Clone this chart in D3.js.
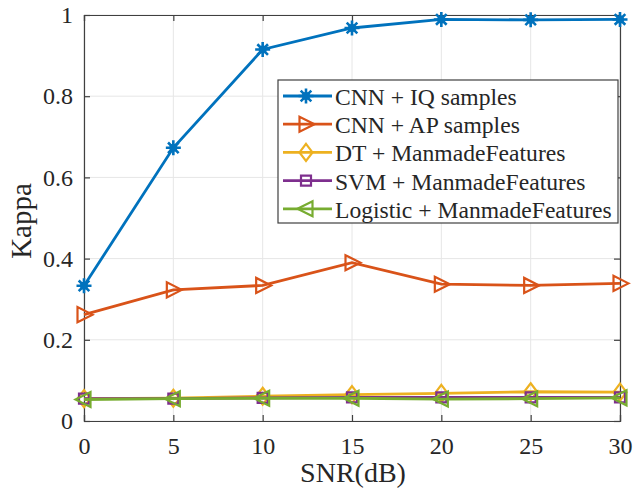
<!DOCTYPE html>
<html>
<head>
<meta charset="utf-8">
<script src="https://cdn.jsdelivr.net/npm/d3@7"></script>
<style>
  body { margin: 0; background: #fff; }
  text { font-family: "Liberation Serif", "Times New Roman", serif; fill: #262626; }
</style>
</head>
<body>
<svg id="chart" width="635" height="497"></svg>
<script>
// data
var snr = [0, 5, 10, 15, 20, 25, 30];
var cnnIQ = [0.333, 0.673, 0.915, 0.968, 0.989, 0.988, 0.989];
var cnnAP = [0.262, 0.323, 0.334, 0.390, 0.337, 0.334, 0.339];
var dtMF = [0.055, 0.056, 0.061, 0.065, 0.068, 0.072, 0.071];
var svmMF = [0.055, 0.055, 0.057, 0.058, 0.058, 0.058, 0.058];
var logMF = [0.053, 0.055, 0.056, 0.056, 0.054, 0.055, 0.057];
var yTicks = [0, 0.2, 0.4, 0.6, 0.8, 1];
var seriesNames = ['CNN + IQ samples', 'CNN + AP samples', 'DT + ManmadeFeatures',
                   'SVM + ManmadeFeatures', 'Logistic + ManmadeFeatures'];

var series = [
  {name: seriesNames[0], values: cnnIQ, color: '#0072BD', marker: 'star'},
  {name: seriesNames[1], values: cnnAP, color: '#D95319', marker: 'tright'},
  {name: seriesNames[2], values: dtMF, color: '#EDB120', marker: 'diamond'},
  {name: seriesNames[3], values: svmMF, color: '#7E2F8E', marker: 'square'},
  {name: seriesNames[4], values: logMF, color: '#77AC30', marker: 'tleft'}
];

var svg = d3.select('#chart');
var m = {left: 84, top: 15, right: 620, bottom: 421};

var x = d3.scaleLinear().domain([0, 30]).range([m.left, m.right]);
var y = d3.scaleLinear().domain([0, 1]).range([m.bottom, m.top]);

// grid
var grid = svg.append('g');
grid.selectAll('.gx').data(snr).enter().append('line')
  .attr('x1', function(d){ return x(d); }).attr('x2', function(d){ return x(d); })
  .attr('y1', m.top).attr('y2', m.bottom)
  .attr('stroke', '#e6e6e6').attr('stroke-width', 1);
grid.selectAll('.gy').data(yTicks).enter().append('line')
  .attr('y1', function(d){ return y(d); }).attr('y2', function(d){ return y(d); })
  .attr('x1', m.left).attr('x2', m.right)
  .attr('stroke', '#e6e6e6').attr('stroke-width', 1);

// axes (inward ticks, box on)
var axB = d3.axisBottom(x).tickValues(snr).tickSize(-6).tickPadding(16).tickFormat(d3.format('d'));
var axT = d3.axisTop(x).tickValues(snr).tickSize(-6).tickFormat('');
var axL = d3.axisLeft(y).tickValues(yTicks).tickSize(-6).tickPadding(11).tickFormat(function(d){ return d === 0 || d === 1 ? d : d3.format('.1f')(d); });
var axR = d3.axisRight(y).tickValues(yTicks).tickSize(-6).tickFormat('');

function styleAxis(g) {
  g.select('.domain').attr('stroke', '#404040').attr('stroke-width', 1.2);
  g.selectAll('.tick line').attr('stroke', '#404040').attr('stroke-width', 1.2);
  g.selectAll('.tick text').style('font-family', '"Liberation Serif", serif')
    .style('font-size', '24px').attr('fill', '#262626');
}
svg.append('g').attr('transform', 'translate(0,' + m.bottom + ')').call(axB).call(styleAxis);
svg.append('g').attr('transform', 'translate(0,' + m.top + ')').call(axT).call(styleAxis);
svg.append('g').attr('transform', 'translate(' + m.left + ',0)').call(axL).call(styleAxis);
svg.append('g').attr('transform', 'translate(' + m.right + ',0)').call(axR).call(styleAxis);

// axis titles
svg.append('text').attr('x', 353).attr('y', 482)
  .attr('text-anchor', 'middle').style('font-size', '28px').text('SNR(dB)');
svg.append('text').attr('transform', 'translate(31,221) rotate(-90)')
  .attr('text-anchor', 'middle').style('font-size', '29px').text('Kappa');

// markers
function drawMarker(g, type, color, cx, cy) {
  var s = 7.5;
  if (type === 'star') {
    var p = '';
    [0, 45, 90, 135].forEach(function(a){
      var r = a * Math.PI / 180;
      p += 'M' + (cx - s * Math.cos(r)) + ',' + (cy - s * Math.sin(r)) + 'L' + (cx + s * Math.cos(r)) + ',' + (cy + s * Math.sin(r));
    });
    g.append('path').attr('d', p).attr('stroke', color).attr('stroke-width', 2.6).attr('fill', 'none');
    g.append('circle').attr('cx', cx).attr('cy', cy).attr('r', 4).attr('fill', color);
  } else {
    var pts;
    if (type === 'tright') pts = [[cx + s + 1, cy], [cx - s + 1, cy - s], [cx - s + 1, cy + s]];
    if (type === 'tleft') pts = [[cx - s - 1, cy], [cx + s - 1, cy - s], [cx + s - 1, cy + s]];
    if (type === 'diamond') pts = [[cx, cy - s - 1], [cx + s - 1, cy], [cx, cy + s + 1], [cx - s + 1, cy]];
    if (type === 'square') pts = [[cx - 5, cy - 5], [cx + 5, cy - 5], [cx + 5, cy + 5], [cx - 5, cy + 5]];
    g.append('polygon').attr('points', pts.map(function(q){ return q.join(','); }).join(' '))
      .attr('fill', 'none').attr('stroke', color).attr('stroke-width', 2.2);
  }
}

var line = d3.line()
  .x(function(d, i){ return x(snr[i]); })
  .y(function(d){ return y(d); });

var plot = svg.append('g');
series.forEach(function(s){
  plot.append('path').datum(s.values).attr('d', line)
    .attr('fill', 'none').attr('stroke', s.color).attr('stroke-width', 2.8);
  s.values.forEach(function(v, i){
    drawMarker(plot, s.marker, s.color, x(snr[i]), y(v));
  });
});

// legend
var lg = svg.append('g');
lg.append('rect').attr('x', 278).attr('y', 80).attr('width', 340).attr('height', 143)
  .attr('fill', '#fff').attr('stroke', '#404040').attr('stroke-width', 1.2);
series.forEach(function(s, i){
  var ly = 96 + i * 28.2;
  lg.append('line').attr('x1', 283).attr('x2', 332).attr('y1', ly).attr('y2', ly)
    .attr('stroke', s.color).attr('stroke-width', 2.8);
  drawMarker(lg, s.marker, s.color, 306, ly);
  lg.append('text').attr('x', 335).attr('y', ly + 9).style('font-size', '23.6px').text(s.name);
});
</script>
</body>
</html>
